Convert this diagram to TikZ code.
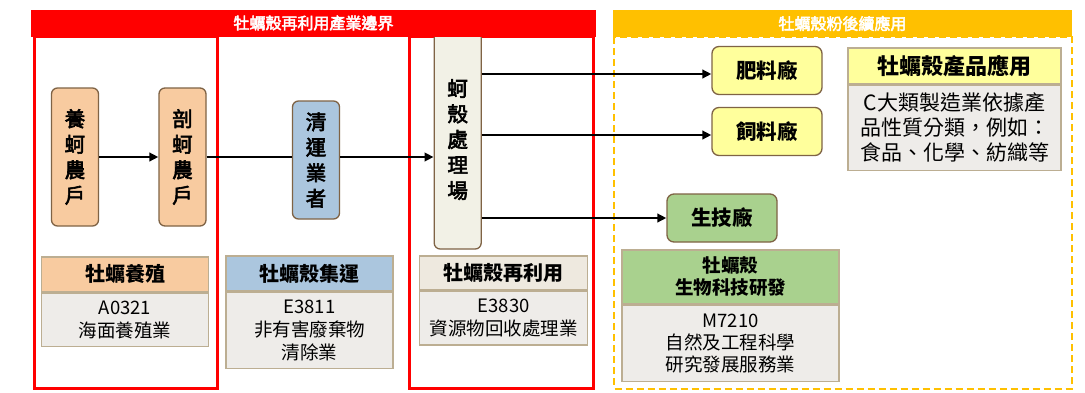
\documentclass[tikz,border=0pt]{standalone}
\usepackage{fontspec}
\setmainfont{Noto Sans CJK TC}
\newfontfamily\medfont[FakeBold=3]{Noto Sans CJK TC}
\usetikzlibrary{arrows.meta}
\definecolor{peach}{HTML}{F8CBA0}
\definecolor{lblue}{HTML}{ABC6DE}
\definecolor{beige}{HTML}{F2F1E6}
\definecolor{beigeh}{HTML}{EEE9DF}
\definecolor{tgray}{HTML}{EEECE9}
\definecolor{tborder}{HTML}{BCAE92}
\definecolor{nbrown}{HTML}{7F6345}
\definecolor{lyellow}{HTML}{FFFF9C}
\definecolor{lgreen}{HTML}{A9D18E}
\definecolor{gold}{HTML}{FFC000}
\definecolor{bred}{HTML}{FF0000}
\tikzset{
  vbox/.style={draw=nbrown, line width=1.3pt, rounded corners=6pt, minimum width=47pt, inner sep=0pt, align=center, font=\medfont\fontsize{20.5}{25.5}\selectfont},
  hbox/.style={draw=nbrown, line width=1.3pt, rounded corners=7pt, minimum width=110pt, minimum height=48pt, inner sep=0pt, font=\bfseries\fontsize{20.5}{24}\selectfont},
  thead/.style={draw=tborder, line width=1.5pt, inner sep=0pt, align=center, anchor=north, font=\bfseries\fontsize{20}{21}\selectfont},
  tbody/.style={draw=tborder, line width=1.5pt, fill=tgray, inner sep=0pt, align=center, anchor=north, font=\fontsize{18.5}{23}\selectfont},
  arr/.style={line width=2.7pt, -{Triangle[length=9pt,width=8.5pt]}},
  plainline/.style={line width=2.7pt},
  redbox/.style={draw=bred, line width=3pt},
  titletext/.style={text=white, font=\medfont\fontsize{16}{18}\selectfont},
}
\begin{document}
\begin{tikzpicture}[x=1pt,y=-1pt]
\useasboundingbox (0,0) rectangle (1085,392);
\fill[white] (0,0) rectangle (1085,392);

% red boundary boxes
\draw[redbox] (34,36) rectangle (217,388);
\draw[redbox] (409.5,36) rectangle (593.5,388);

% orange dashed frame
\draw[gold, line width=2pt, dash pattern=on 7pt off 4pt] (614,37) rectangle (1072,388.5);

% vertical nodes
\node[vbox, fill=peach, minimum height=138pt] (farm) at (75,157) {養\\蚵\\農\\戶};
\node[vbox, fill=peach, minimum height=138pt] (shuck) at (182.5,157) {剖\\蚵\\農\\戶};
\node[vbox, fill=lblue, minimum height=118pt] (clean) at (316,160) {清\\運\\業\\者};
\node[vbox, fill=beige, minimum height=219pt] (proc) at (457.7,139.5) {蚵\\殼\\處\\理\\場};

% horizontal nodes
\node[hbox, fill=lyellow] (fei) at (767,70.5) {肥料廠};
\node[hbox, fill=lyellow] (si) at (767,131.5) {飼料廠};
\node[hbox, fill=lgreen] (bio) at (722,218) {生技廠};

% connectors
\coordinate (ya) at (0,74);
\coordinate (yb) at (0,135);
\draw[arr] (farm.east) -- (shuck.west);
\draw[plainline] (shuck.east) -- (clean.west |- shuck.east);
\draw[arr] (clean.east |- shuck.east) -- (proc.west |- shuck.east);
\draw[arr] (proc.east |- ya) -- (fei.west |- ya);
\draw[arr] (proc.east |- yb) -- (si.west |- yb);
\draw[arr] (proc.east |- bio.west) -- (bio.west);

% headers
\fill[bred] (31,9.5) rectangle (596,36.5);
\node[titletext] (t1) at (313.5,23) {牡蠣殼再利用產業邊界};
\fill[gold] (613,10) rectangle (1072,37);
\node[titletext] (t2) at (842.5,23.5) {牡蠣殼粉後續應用};

% tables
\node[thead, fill=peach, minimum width=167pt, minimum height=34.7pt] (h1) at (125,256) {牡蠣養殖};
\node[tbody, minimum width=167pt, minimum height=53.3pt] (b1) at (h1.south) {A0321\\海面養殖業};

\node[thead, fill=lblue, minimum width=167pt, minimum height=34.7pt] (h2) at (309.5,255.3) {牡蠣殼集運};
\node[tbody, minimum width=167pt, minimum height=76pt] (b2) at (h2.south) {E3811\\非有害廢棄物\\清除業};

\node[thead, fill=beigeh, minimum width=168pt, minimum height=34.3pt] (h3) at (503.7,255) {牡蠣殼再利用};
\node[tbody, minimum width=168pt, minimum height=53.4pt] (b3) at (h3.south) {E3830\\資源物回收處理業};

\node[thead, fill=lgreen, minimum width=217pt, minimum height=54pt, font=\bfseries\fontsize{18.5}{21.5}\selectfont] (h4) at (730.5,249) {牡蠣殼\\生物科技研發};
\node[tbody, minimum width=217pt, minimum height=76pt, font=\fontsize{18.5}{22}\selectfont] (b4) at (h4.south) {M7210\\自然及工程科學\\研究發展服務業};

\node[thead, fill=lyellow, minimum width=213pt, minimum height=36pt, font=\bfseries\fontsize{22}{24}\selectfont] (h5) at (954.5,47) {牡蠣殼產品應用};
\node[tbody, minimum width=213pt, minimum height=85pt, font=\fontsize{21}{25}\selectfont] (b5) at (h5.south) {C大類製造業依據產\\品性質分類，例如：\\食品、化學、紡織等};
\end{tikzpicture}
\end{document}
